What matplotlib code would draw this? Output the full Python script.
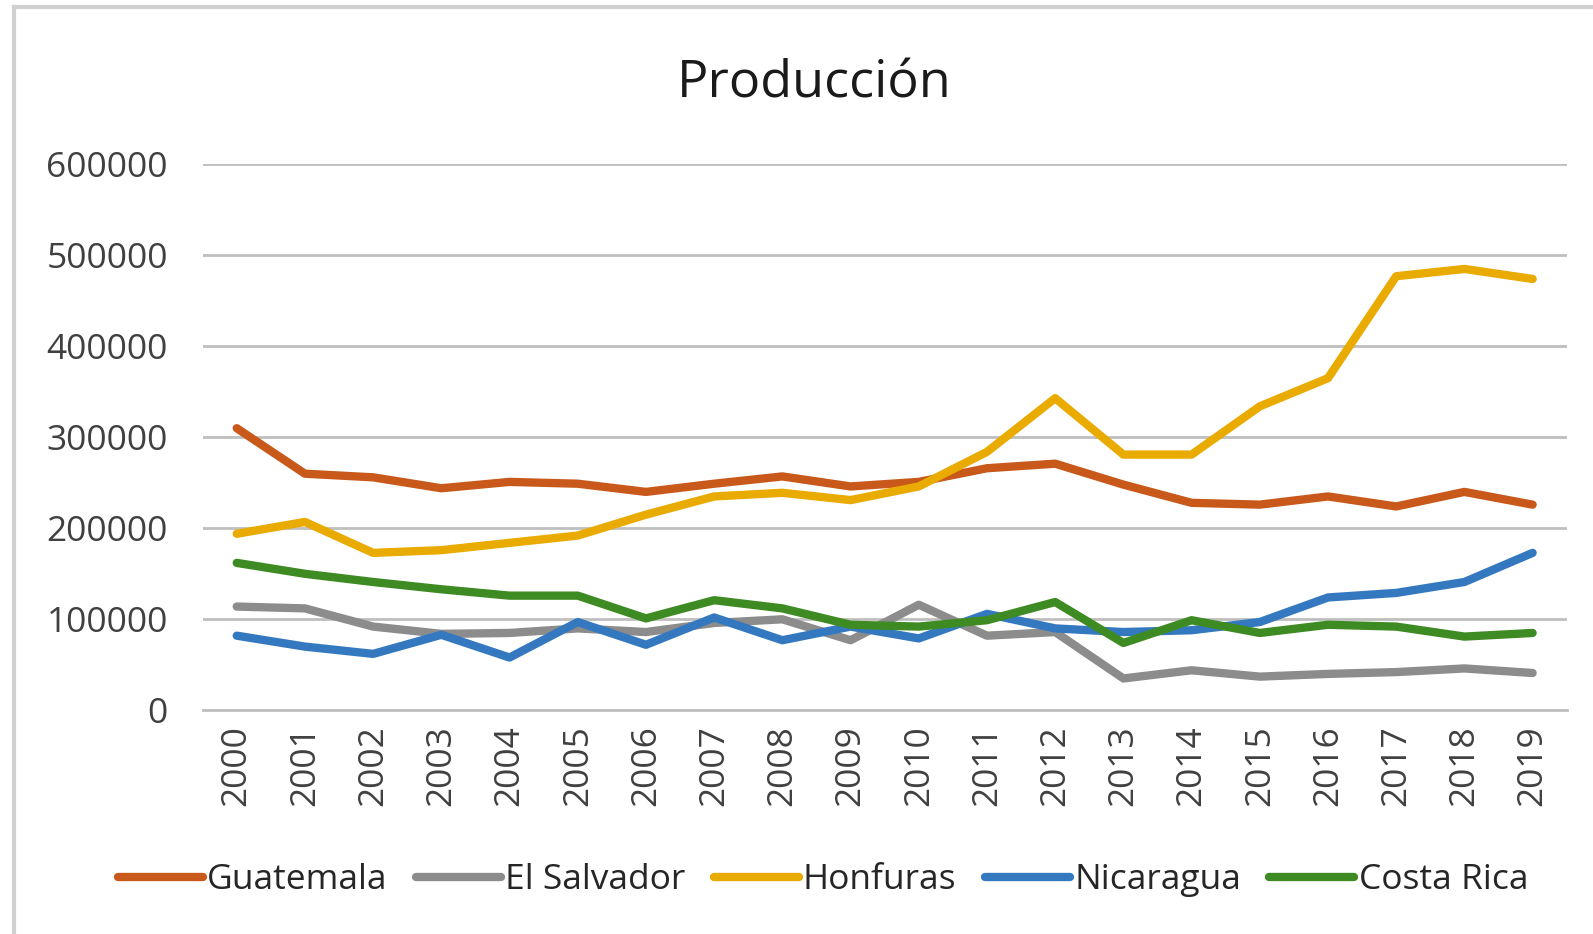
import matplotlib.pyplot as plt
from matplotlib.lines import Line2D

years = [str(y) for y in range(2000, 2020)]

guatemala = [310000, 260000, 256000, 244000, 251000, 249000, 240000, 249000, 257000, 246000,
             251000, 266000, 271000, 248000, 228000, 226000, 235000, 224000, 240000, 226000]
el_salvador = [114000, 112000, 92000, 84000, 85000, 90000, 86000, 96000, 100000, 77000,
               116000, 82000, 86000, 35000, 44000, 37000, 40000, 42000, 46000, 41000]
honduras = [194000, 207000, 173000, 176000, 184000, 192000, 215000, 235000, 239000, 231000,
            246000, 284000, 343000, 281000, 281000, 334000, 365000, 477000, 485000, 474000]
nicaragua = [82000, 70000, 62000, 83000, 58000, 97000, 72000, 102000, 77000, 92000,
             79000, 106000, 90000, 86000, 88000, 97000, 124000, 129000, 141000, 173000]
costa_rica = [162000, 150000, 141000, 133000, 126000, 126000, 101000, 121000, 112000, 94000,
              92000, 99000, 119000, 74000, 99000, 85000, 94000, 92000, 81000, 85000]

series = [
    ("Guatemala", guatemala, "#C9591A"),
    ("El Salvador", el_salvador, "#8C8C8C"),
    ("Honfuras", honduras, "#E9AB00"),
    ("Nicaragua", nicaragua, "#3479BF"),
    ("Costa Rica", costa_rica, "#3D8B22"),
]

font = ["Open Sans", "DejaVu Sans"]

fig = plt.figure(figsize=(15.93, 9.34), dpi=100)
ax = fig.add_axes([0.1272, 0.2395, 0.8563, 0.5846])

x = list(range(len(years)))
for name, vals, color in series:
    ax.plot(x, vals, color=color, linewidth=6.0, solid_capstyle="round",
            solid_joinstyle="round", label=name)

ax.set_xlim(-0.5, len(years) - 0.5)
ax.set_ylim(0, 600000)
ax.set_yticks(range(0, 600001, 100000))
ax.set_yticklabels([str(v) for v in range(0, 600001, 100000)], family=font,
                   fontsize=25.5, color="#404040")
ax.set_xticks(x)
ax.set_xticklabels(years, rotation=90, family=font, fontsize=25.5, color="#404040")
ax.tick_params(axis="y", length=0, pad=25)
ax.tick_params(axis="x", length=0, pad=11)

ax.grid(axis="y", color="#BFBFBF", linewidth=2.0)
ax.set_axisbelow(True)
for side in ["top", "right", "left"]:
    ax.spines[side].set_visible(False)
ax.spines["bottom"].set_color("#BFBFBF")
ax.spines["bottom"].set_linewidth(2.0)

fig.text(814 / 1593, 1 - 98 / 934, "Producción", ha="center", va="baseline",
         family=font, fontsize=37.5, color="#1a1a1a")

handles = [Line2D([], [], color=c, linewidth=6.0, solid_capstyle="round") for _, _, c in series]
leg = fig.legend(handles, [s[0] for s in series], loc="center",
                 bbox_to_anchor=(823 / 1593, 1 - 880 / 934), ncol=5, frameon=False,
                 handlelength=2.4, handletextpad=0.12, columnspacing=0.8,
                 borderpad=0, prop={"family": font, "size": 25.5})
for t in leg.get_texts():
    t.set_color("#262626")

# outer chart border (only left and top visible in the crop)
fig.add_artist(Line2D([14 / 1593, 14 / 1593], [0, 1 - 7 / 934], transform=fig.transFigure,
                      color="#D0D0D0", linewidth=3))
fig.add_artist(Line2D([14 / 1593, 1], [1 - 7 / 934, 1 - 7 / 934], transform=fig.transFigure,
                      color="#D0D0D0", linewidth=3))

fig.savefig("out.png", dpi=100)
